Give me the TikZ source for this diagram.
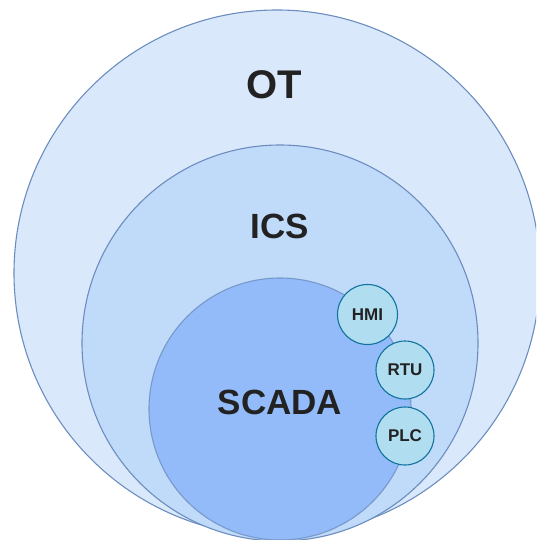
\documentclass[tikz,border=0pt]{standalone}
\usepackage{fontspec}
\setmainfont{Liberation Sans}
\definecolor{otfill}{HTML}{DAE8FC}
\definecolor{icsfill}{HTML}{C0DAFA}
\definecolor{scadafill}{HTML}{93BBF9}
\definecolor{ringline}{HTML}{6C8EBF}
\definecolor{devfill}{HTML}{B1DDF0}
\definecolor{devline}{HTML}{10739E}
\definecolor{labeltext}{HTML}{222222}
\tikzset{
  ring/.style={circle, draw=ringline, line width=1.1pt, inner sep=0pt},
  device/.style={circle, draw=devline, fill=devfill, line width=1.1pt, inner sep=0pt,
    minimum size=58pt, font=\bfseries\fontsize{17}{17}\selectfont, text=labeltext},
  biglabel/.style={font=\bfseries\fontsize{#1}{#1}\selectfont, text=labeltext, inner sep=0pt}
}
\begin{document}
\begin{tikzpicture}[x=1pt, y=-1pt]
  \useasboundingbox (0,0) rectangle (536,540);
  \begin{scope}
    \clip (0,0) rectangle (536,540);
    % nested domains
    \node[ring, fill=otfill, minimum size=526pt] (ot) at (277,273) {};
    \node[ring, fill=icsfill, minimum size=396pt] (ics) at (280,343) {};
    \node[ring, fill=scadafill, draw opacity=0.8, minimum size=262pt] (scada) at (280,409) {};
  \end{scope}
  % domain titles
  \node[biglabel=40] (otlabel) at (274,84.5) {OT};
  \node[biglabel=35] (icslabel) at (280,226) {ICS};
  \node[biglabel=35] (scadalabel) at (280,402.5) {SCADA};
  % field devices on the SCADA boundary
  \node[device, minimum size=60pt] (hmi) at (367.5,314.5) {HMI};
  \node[device] (rtu) at (405,370) {RTU};
  \node[device] (plc) at (405,436) {PLC};
\end{tikzpicture}
\end{document}
